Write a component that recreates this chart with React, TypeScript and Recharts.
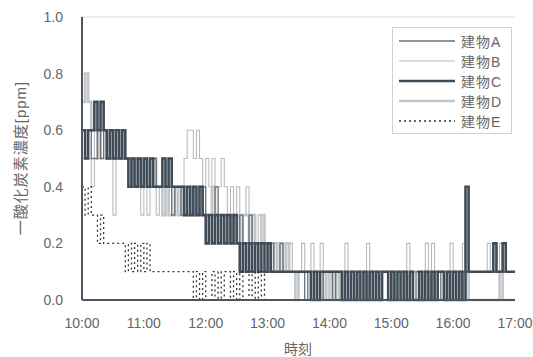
import React from 'react';
import { LineChart, Line, XAxis, YAxis, CartesianGrid, Legend, Label } from 'recharts';

// CO readings every 3 minutes from 10:00 to 17:00, in units of 0.1 ppm
const buildingA = [
  6, 5, 6, 5, 5, 6, 5, 6, 5, 5,
  6, 5, 5, 6, 5, 5, 4, 4, 5, 4,
  5, 4, 4, 5, 4, 4, 5, 4, 4, 3,
  4, 4, 3, 4, 3, 3, 4, 3, 3, 4,
  3, 3, 3, 4, 3, 3, 3, 2, 3, 2,
  2, 3, 2, 2, 3, 2, 2, 2, 2, 2,
  1, 2, 1, 1, 2, 1, 1, 1, 1, 1,
  1, 1, 0, 1, 1, 1, 1, 0, 1, 1,
  1, 0, 1, 1, 0, 1, 0, 0, 1, 0,
  0, 1, 0, 0, 1, 0, 1, 0, 0, 1,
  0, 1, 0, 1, 0, 0, 1, 0, 1, 0,
  0, 1, 0, 0, 1, 0, 1, 0, 0, 1,
  0, 1, 0, 1, 1, 1, 1, 1, 1, 1,
  1, 1, 1, 1, 1, 1, 1, 1, 1, 1,
  1,
];

const buildingB = [
  5, 6, 5, 4, 6, 5, 6, 5, 5, 5,
  3, 5, 6, 5, 5, 5, 4, 5, 4, 3,
  4, 3, 4, 4, 3, 4, 3, 4, 3, 4,
  3, 4, 4, 5, 6, 6, 5, 6, 5, 4,
  5, 4, 5, 4, 4, 5, 4, 3, 4, 3,
  4, 3, 3, 4, 3, 3, 2, 3, 2, 2,
  2, 2, 2, 1, 1, 1, 1, 2, 1, 1,
  1, 2, 1, 1, 2, 1, 1, 2, 1, 1,
  1, 1, 1, 1, 1, 2, 1, 1, 1, 1,
  1, 1, 2, 1, 1, 1, 1, 1, 1, 1,
  1, 1, 1, 1, 1, 2, 1, 1, 1, 1,
  1, 2, 1, 2, 1, 1, 1, 1, 1, 2,
  1, 1, 1, 2, 1, 1, 1, 1, 1, 1,
  1, 2, 1, 1, 1, 2, 1, 1, 1, 1,
  1,
];

const buildingC = [
  6, 5, 6, 6, 7, 6, 7, 6, 5, 6,
  5, 6, 5, 6, 5, 4, 5, 4, 5, 4,
  5, 4, 5, 4, 4, 4, 5, 4, 5, 4,
  4, 4, 4, 3, 4, 3, 4, 3, 4, 3,
  2, 3, 2, 3, 2, 3, 2, 3, 2, 3,
  2, 1, 2, 1, 2, 1, 2, 1, 2, 1,
  2, 1, 1, 1, 1, 1, 1, 1, 1, 1,
  1, 1, 1, 1, 0, 1, 0, 1, 1, 1,
  1, 1, 1, 1, 0, 1, 0, 1, 0, 1,
  0, 1, 0, 1, 0, 1, 0, 1, 1, 0,
  1, 0, 1, 0, 1, 0, 1, 0, 0, 1,
  0, 1, 0, 1, 0, 1, 1, 0, 1, 0,
  1, 0, 1, 0, 4, 1, 1, 1, 1, 1,
  1, 1, 1, 2, 1, 1, 2, 1, 1, 1,
  1,
];

const buildingD = [
  7, 8, 7, 6, 6, 5, 6, 6, 5, 6,
  5, 5, 6, 5, 5, 5, 4, 5, 5, 4,
  5, 4, 4, 5, 4, 4, 3, 4, 3, 3,
  4, 3, 4, 3, 3, 4, 3, 3, 4, 3,
  3, 3, 4, 3, 3, 3, 3, 3, 2, 3,
  3, 2, 3, 3, 2, 3, 2, 2, 3, 2,
  2, 1, 2, 1, 2, 1, 2, 1, 1, 0,
  1, 1, 1, 1, 1, 1, 1, 1, 0, 1,
  0, 1, 0, 1, 0, 1, 1, 1, 0, 1,
  1, 1, 0, 1, 1, 1, 0, 1, 1, 1,
  0, 1, 1, 1, 1, 0, 1, 1, 1, 0,
  1, 1, 1, 0, 1, 1, 1, 1, 0, 1,
  1, 1, 0, 1, 1, 0, 0, 0, 0, 0,
  0, 0, 0, 0, 0, 1, 0, 0, 0, 0,
  0,
];

const buildingE = [
  4, 3, 4, 3, 3, 2, 3, 2, 2, 2,
  2, 2, 2, 2, 1, 2, 1, 2, 1, 2,
  1, 2, 1, 1, 1, 1, 1, 1, 1, 1,
  1, 1, 1, 1, 1, 1, 0, 1, 0, 1,
  0, 0, 1, 0, 1, 0, 1, 1, 0, 1,
  0, 1, 0, 0, 1, 0, 1, 0, 1, 0,
  0, 0, 0, 0, 0, 0, 0, 0, 0, 0,
  0, 0, 0, 0, 0, 0, 0, 0, 0, 0,
  0, 0, 0, 0, 0, 0, 0, 0, 0, 0,
  0, 0, 0, 0, 0, 0, 0, 0, 0, 0,
  0, 0, 0, 0, 0, 0, 0, 0, 0, 0,
  0, 0, 0, 0, 0, 0, 0, 0, 0, 0,
  0, 0, 0, 0, 0, 0, 0, 0, 0, 0,
  0, 0, 0, 0, 0, 0, 0, 0, 0, 0,
  0,
];

const seriesNames = ['建物A', '建物B', '建物C', '建物D', '建物E'];
const hourTicks = [600, 660, 720, 780, 840, 900, 960, 1020];
const valueTicks = [0, 0.2, 0.4, 0.6, 0.8, 1.0];

const START_MIN = 600;
const STEP_MIN = 3;

const data = buildingA.map((_, i) => ({
  t: START_MIN + i * STEP_MIN,
  a: buildingA[i] / 10,
  b: buildingB[i] / 10,
  c: buildingC[i] / 10,
  d: buildingD[i] / 10,
  e: buildingE[i] / 10,
}));

const FONT = '"Liberation Sans", Arial, "Noto Sans CJK JP", sans-serif';
const TEXT = '#666';
const FRAME = '#4d5660';

// drawing order: light lines underneath, dark and dotted on top
const lines = [
  { key: 'b', name: seriesNames[1], color: '#b8bbbe', width: 1.1, dash: undefined },
  { key: 'd', name: seriesNames[3], color: '#c3c6c8', width: 2.6, dash: undefined },
  { key: 'a', name: seriesNames[0], color: '#6a7177', width: 1.3, dash: undefined },
  { key: 'c', name: seriesNames[2], color: '#3f4c57', width: 2.6, dash: undefined },
  { key: 'e', name: seriesNames[4], color: '#333', width: 1.3, dash: '2 3' },
];

const legendOrder = ['a', 'b', 'c', 'd', 'e'];

function LegendBox() {
  return (
    <div
      style={{
        border: '1px solid #cfd2d4',
        background: '#fff',
        padding: '3px 6px 2px 6px',
        fontFamily: FONT,
        fontSize: 14,
        color: TEXT,
      }}
    >
      {legendOrder.map((k) => {
        const s = lines.find((l) => l.key === k)!;
        return (
          <div key={k} style={{ display: 'flex', alignItems: 'center', height: 20 }}>
            <svg width={56} height={10} style={{ marginRight: 6 }}>
              <line
                x1={0}
                y1={5}
                x2={56}
                y2={5}
                stroke={s.color}
                strokeWidth={s.width}
                strokeDasharray={s.dash}
              />
            </svg>
            <span style={{ letterSpacing: 1 }}>{s.name}</span>
          </div>
        );
      })}
    </div>
  );
}

export default function App() {
  return (
    <div style={{ position: 'absolute', left: 0, top: 0, width: 533, height: 357, background: '#fff' }}>
      <LineChart
        width={533}
        height={357}
        data={data}
        margin={{ top: 17, right: 18, bottom: 0, left: 0 }}
        style={{ fontFamily: FONT }}
      >
        <CartesianGrid vertical={false} stroke="#d4d6d8" strokeWidth={1} />
        <XAxis
          xAxisId="bottom"
          type="number"
          dataKey="t"
          domain={[600, 1020]}
          ticks={hourTicks}
          tickFormatter={(m: number) => `${Math.floor(m / 60)}:00`}
          height={57}
          tickLine={false}
          tickMargin={12}
          axisLine={{ stroke: FRAME, strokeWidth: 2 }}
          tick={{ fill: TEXT, fontSize: 14 }}
          interval={0}
        >
          <Label
            content={() => (
              <text x={298} y={349} textAnchor="middle" dominantBaseline="central" fill={TEXT} fontSize={14} fontFamily={FONT}>
                時刻
              </text>
            )}
          />
        </XAxis>
        <XAxis
          xAxisId="top"
          orientation="top"
          type="number"
          dataKey="t"
          domain={[600, 1020]}
          height={0}
          tick={false}
          tickLine={false}
          axisLine={{ stroke: FRAME, strokeWidth: 2 }}
        />
        <YAxis
          yAxisId="left"
          domain={[0, 1]}
          ticks={valueTicks}
          tickFormatter={(v: number) => v.toFixed(1)}
          width={82}
          tickLine={false}
          tickMargin={13}
          axisLine={{ stroke: FRAME, strokeWidth: 2 }}
          tick={{ fill: TEXT, fontSize: 14 }}
          interval={0}
        >
          <Label
            content={() => (
              <text
                x={20}
                y={158}
                transform="rotate(-90 20 158)"
                textAnchor="middle"
                dominantBaseline="central"
                fill={TEXT}
                fontSize={15}
                letterSpacing={1}
                fontFamily={FONT}
              >
                一酸化炭素濃度[ppm]
              </text>
            )}
          />
        </YAxis>
        <YAxis
          yAxisId="right"
          orientation="right"
          domain={[0, 1]}
          width={0}
          tick={false}
          tickLine={false}
          axisLine={{ stroke: FRAME, strokeWidth: 2 }}
        />
        {lines.map((s) => (
          <Line
            key={s.key}
            xAxisId="bottom"
            yAxisId="left"
            type="stepAfter"
            dataKey={s.key}
            name={s.name}
            stroke={s.color}
            strokeWidth={s.width}
            strokeDasharray={s.dash}
            dot={false}
            activeDot={false}
            isAnimationActive={false}
          />
        ))}
        <Legend
          layout="horizontal"
          verticalAlign="middle"
          align="center"
          content={() => <LegendBox />}
          wrapperStyle={{ position: 'absolute', left: 392, top: 27, width: 120, height: 'auto', bottom: 'auto' }}
        />
      </LineChart>
    </div>
  );
}
